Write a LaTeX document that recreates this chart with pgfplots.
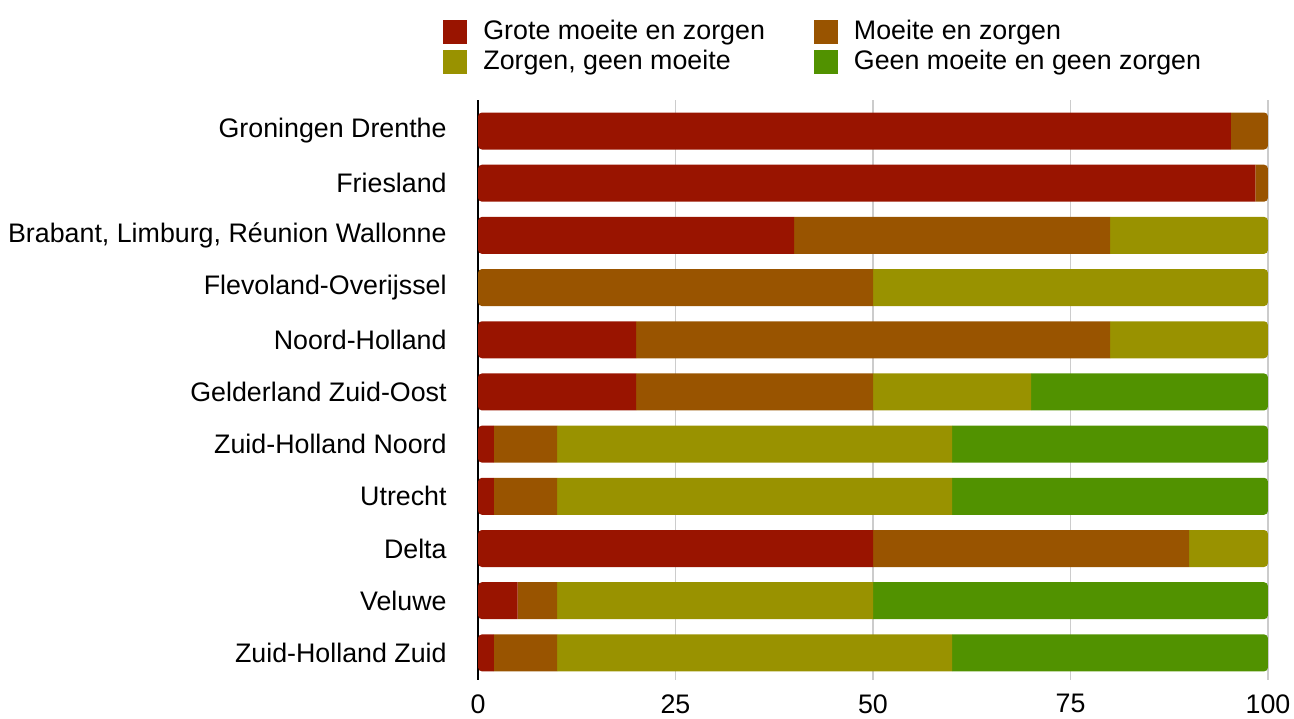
\documentclass[border=0pt]{standalone}
\usepackage{fontspec}
\setmainfont{Liberation Sans}
\usepackage{pgfplots}
\pgfplotsset{compat=1.18}
\definecolor{cRed}{HTML}{991400}
\definecolor{cBrown}{HTML}{995400}
\definecolor{cOlive}{HTML}{999200}
\definecolor{cGreen}{HTML}{519200}
\definecolor{cGrid}{HTML}{CCCCCC}
\pgfplotsset{common/.style={
  scale only axis, width=395pt, height=290pt,
  xmin=0, xmax=100, ymin=-0.594, ymax=10.52, y dir=reverse}}
\begin{document}
\begin{tikzpicture}
\begin{axis}[
  common,
  xtick={0,25,50,75,100}, ytick={0,...,10},
  yticklabels={Groningen Drenthe, Friesland, {Brabant, Limburg, Réunion Wallonne}, Flevoland-Overijssel, Noord-Holland, Gelderland Zuid-Oost, Zuid-Holland Noord, Utrecht, Delta, Veluwe, Zuid-Holland Zuid},
  tick style={draw=none},
  xmajorgrids, grid style={cGrid, line width=0.75pt},
  axis x line*=bottom, axis y line*=left,
  x axis line style={draw=none}, y axis line style={black, line width=1.25pt, -},
  tick label style={font=\fontsize{13.4}{16}\selectfont},
  /pgf/number format/assume math mode=true,
  yticklabel style={inner sep=0pt, xshift=-15.5pt},
  xticklabel style={inner sep=0pt, yshift=-7pt},
  legend columns=2,
  legend cell align=left,
  legend image code/.code={\fill[#1] (0pt,-6pt) rectangle (12pt,6pt); \path (20pt,0pt);},
  legend style={draw=none, fill=none, at={(0,1)}, anchor=south west, xshift=-17.5pt, yshift=13pt, inner sep=0pt, row sep=3pt, font=\fontsize{13.4}{16}\selectfont, /tikz/every even column/.append style={column sep=24.5pt}, nodes={inner sep=0pt}},
]
\addlegendimage{fill=cRed, draw=none}
\addlegendentry{Grote moeite en zorgen}
\addlegendimage{fill=cBrown, draw=none}
\addlegendentry{Moeite en zorgen}
\addlegendimage{fill=cOlive, draw=none}
\addlegendentry{Zorgen, geen moeite}
\addlegendimage{fill=cGreen, draw=none}
\addlegendentry{Geen moeite en geen zorgen}
\coordinate (a0) at (axis cs:0,-0.355);  \coordinate (b0) at (axis cs:100,0.355);
\coordinate (a1) at (axis cs:0,0.645);   \coordinate (b1) at (axis cs:100,1.355);
\coordinate (a2) at (axis cs:0,1.645);   \coordinate (b2) at (axis cs:100,2.355);
\coordinate (a3) at (axis cs:0,2.645);   \coordinate (b3) at (axis cs:100,3.355);
\coordinate (a4) at (axis cs:0,3.645);   \coordinate (b4) at (axis cs:100,4.355);
\coordinate (a5) at (axis cs:0,4.645);   \coordinate (b5) at (axis cs:100,5.355);
\coordinate (a6) at (axis cs:0,5.645);   \coordinate (b6) at (axis cs:100,6.355);
\coordinate (a7) at (axis cs:0,6.645);   \coordinate (b7) at (axis cs:100,7.355);
\coordinate (a8) at (axis cs:0,7.645);   \coordinate (b8) at (axis cs:100,8.355);
\coordinate (a9) at (axis cs:0,8.645);   \coordinate (b9) at (axis cs:100,9.355);
\coordinate (a10) at (axis cs:0,9.645);  \coordinate (b10) at (axis cs:100,10.355);
\end{axis}
\begin{scope}
\clip[rounded corners=2pt]
 (a0) rectangle (b0) (a1) rectangle (b1) (a2) rectangle (b2) (a3) rectangle (b3)
 (a4) rectangle (b4) (a5) rectangle (b5) (a6) rectangle (b6) (a7) rectangle (b7)
 (a8) rectangle (b8) (a9) rectangle (b9) (a10) rectangle (b10);
\begin{axis}[common, hide axis, xbar stacked, bar width=18.5pt]
\addplot[fill=cRed, draw=none] coordinates {(95.3,0) (98.4,1) (40,2) (0,3) (20,4) (20,5) (2,6) (2,7) (50,8) (5,9) (2,10)};
\addplot[fill=cBrown, draw=none] coordinates {(4.7,0) (1.6,1) (40,2) (50,3) (60,4) (30,5) (8,6) (8,7) (40,8) (5,9) (8,10)};
\addplot[fill=cOlive, draw=none] coordinates {(0,0) (0,1) (20,2) (50,3) (20,4) (20,5) (50,6) (50,7) (10,8) (40,9) (50,10)};
\addplot[fill=cGreen, draw=none] coordinates {(0,0) (0,1) (0,2) (0,3) (0,4) (30,5) (40,6) (40,7) (0,8) (50,9) (40,10)};
\end{axis}
\end{scope}
\path ([xshift=-239pt,yshift=50pt]current axis.north west) rectangle ([xshift=13pt,yshift=-19pt]current axis.south east);
\end{tikzpicture}
\end{document}
